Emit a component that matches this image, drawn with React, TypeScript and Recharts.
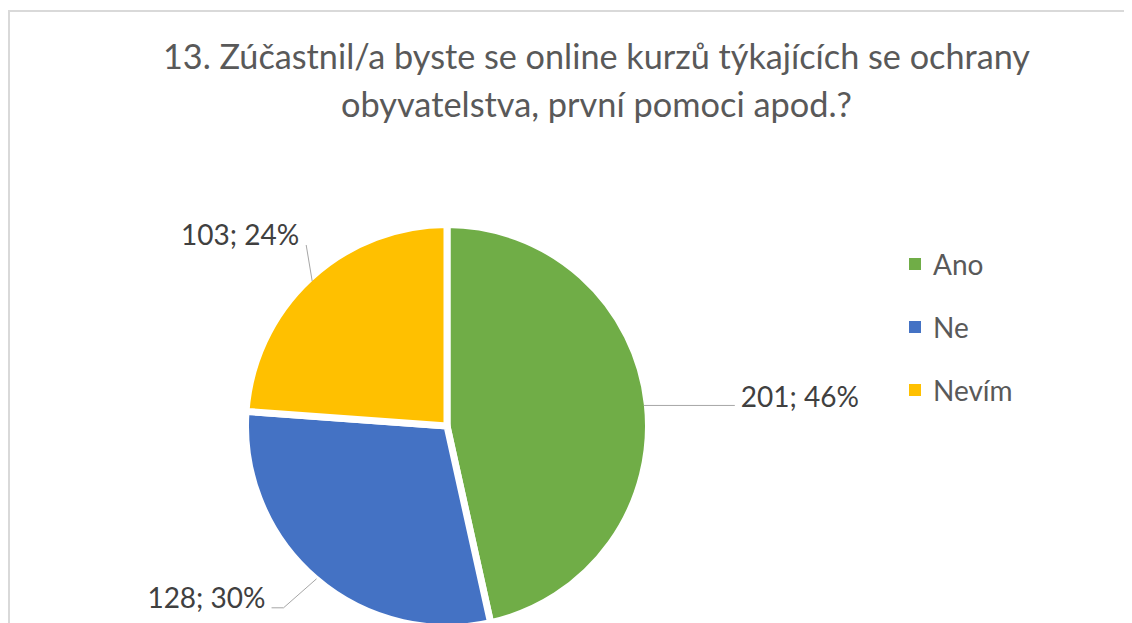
import { PieChart, Pie, Cell, Legend } from "recharts";

const categories = ["Ano", "Ne", "Nevím"];
const counts = [201, 128, 103];
const percents = [46, 30, 24];
const colors = ["#70AD47", "#4472C4", "#FFC000"];
const titleLines = [
  "13. Zúčastnil/a byste se online kurzů týkajících se ochrany",
  "obyvatelstva, první pomoci apod.?",
];

const data = categories.map((name, i) => ({ name, value: counts[i] }));

const FONT = "Lato, 'Open Sans', sans-serif";
const W = 1124;
const H = 615;
const GAP = 7; // white gap between slices
const R = 198; // visible pie radius

// leader line points and label anchor, relative to the slice's edge point
const leaders = [
  { pts: [[0, 1], [91, 1]], text: [97, 3], anchor: "start" },
  { pts: [[-1, 3], [-34, 32], [-46, 32]], text: [-52, 32], anchor: "end" },
  { pts: [[0, 0], [-6, -36]], text: [-13, -36], anchor: "end" },
];

const renderLabel = (props: any) => {
  const { cx, cy, midAngle, index, value } = props;
  const rad = (-midAngle * Math.PI) / 180;
  const ex = cx + R * Math.cos(rad);
  const ey = cy + R * Math.sin(rad);
  const l = leaders[index];
  const d = l.pts.map(([dx, dy], i) => `${i ? "L" : "M"}${ex + dx},${ey + dy}`).join(" ");
  return (
    <g key={`lbl-${index}`}>
      <path d={d} stroke="#A6A6A6" strokeWidth={1} fill="none" />
      <text
        x={ex + l.text[0]}
        y={ey + l.text[1]}
        textAnchor={l.anchor}
        fill="#404040"
        style={{ fontFamily: FONT, fontSize: 28 }}
      >
        {`${value}; ${percents[index]}%`}
      </text>
    </g>
  );
};

const LegendContent = ({ payload }: any) => (
  <div style={{ fontFamily: FONT }}>
    {(payload ?? []).map((p: any) => (
      <div key={p.value} style={{ display: "flex", alignItems: "center", height: 63 }}>
        <span style={{ width: 12, height: 12, background: p.color, display: "inline-block", marginRight: 12 }} />
        <span style={{ fontSize: 28, color: "#595959", lineHeight: "28px" }}>{p.value}</span>
      </div>
    ))}
  </div>
);

export default function App() {
  return (
    <div style={{ position: "relative", width: W, height: H, background: "#fff" }}>
      {/* chart frame: only left and top edges are in view */}
      <div
        style={{
          position: "absolute",
          left: 0,
          top: 2,
          right: 0,
          bottom: 0,
          borderLeft: "2px solid #D9D9D9",
          borderTop: "2px solid #D9D9D9",
        }}
      />
      <svg width={W} height={140} style={{ position: "absolute", left: 0, top: 0 }}>
        {titleLines.map((t, i) => (
          <text
            key={i}
            x={588.5}
            y={61 + i * 48}
            textAnchor="middle"
            fill="#595959"
            textLength={i === 0 ? 867 : 511}
            lengthAdjust="spacingAndGlyphs"
            style={{ fontFamily: FONT, fontSize: 35 }}
          >
            {t}
          </text>
        ))}
      </svg>
      <div style={{ position: "absolute", left: 0, top: 0 }}>
        <PieChart width={W} height={H} margin={{ top: 0, right: 0, bottom: 0, left: 0 }}>
          <Pie
            data={data}
            dataKey="value"
            nameKey="name"
            cx={439}
            cy={418}
            outerRadius={R + GAP / 2}
            startAngle={90}
            endAngle={-270}
            stroke="#fff"
            strokeWidth={GAP}
            isAnimationActive={false}
            labelLine={false}
            label={renderLabel}
          >
            {data.map((_, i) => (
              <Cell key={i} fill={colors[i]} />
            ))}
          </Pie>
          <Legend
            layout="horizontal"
            verticalAlign="middle"
            align="center"
            content={<LegendContent />}
            wrapperStyle={{ left: 901, top: 224, width: 200 }}
          />
        </PieChart>
      </div>
    </div>
  );
}
